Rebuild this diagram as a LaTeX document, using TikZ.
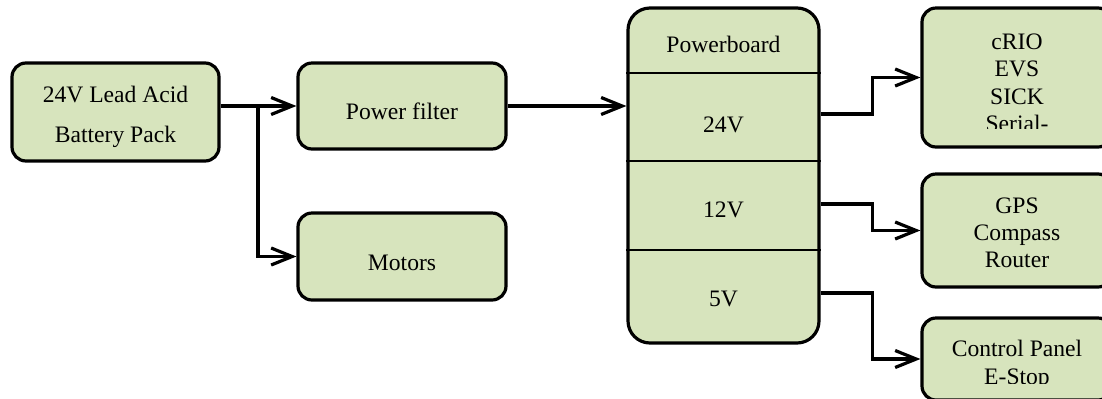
\documentclass[tikz,border=0pt]{standalone}
\usepackage{fontspec}
\setmainfont{LiberationSerif}[Extension=.ttf,UprightFont=*-Regular,BoldFont=*-Bold]
\usetikzlibrary{arrows.meta}
\definecolor{boxgreen}{RGB}{215,228,189}
\tikzset{>={Straight Barb[length=10.5pt,width=8.5pt]},font=\rmfamily\fontsize{11.8}{13.7}\selectfont,
  block/.style={draw,fill=boxgreen,line width=1.6pt,rounded corners=7pt,inner sep=0pt},
  lbl/.style={inner sep=0pt,align=center},
  wire/.style={->,line width=1.6pt},
  divider/.style={line width=1pt}}

\begin{document}
\begin{tikzpicture}[x=0.5pt,y=-0.5pt]
\useasboundingbox (0,0) rectangle (1102,398);
\clip (0,0) rectangle (1102,398);
% boxes
\node[block,minimum width=103.5pt,minimum height=49pt] (battery) at (115.5,112) {};
\node[block,minimum width=104pt,minimum height=43pt] (pf) at (402,106) {};
\node[block,minimum width=104pt,minimum height=43.5pt] (motors) at (402,256.5) {};
\node[block,rounded corners=11pt,minimum width=95.5pt,minimum height=167.5pt] (pb) at (723.5,175.5) {};
\node[block,minimum width=95pt,minimum height=69.5pt] (crio) at (1017,77.5) {};
\node[block,minimum width=95pt,minimum height=56.5pt] (gps) at (1017,230.5) {};
\node[block,minimum width=95pt,minimum height=41pt] (panel) at (1017,359) {};
\draw[divider] (pb.west |- 0,73) -- (pb.east |- 0,73);
\draw[divider] (pb.west |- 0,161) -- (pb.east |- 0,161);
\draw[divider] (pb.west |- 0,250) -- (pb.east |- 0,250);
% texts
\node[lbl] (battery-txt) at (115.5,116.5) {24V Lead Acid\\[6.3pt]Battery Pack};
\node[lbl,anchor=base] (pf-txt) at (402,119) {Power filter};
\node[lbl,anchor=base] (motors-txt) at (402,270) {Motors};
\node[lbl,anchor=base] (pb-txt) at (723.5,52) {Powerboard};
\node[lbl,anchor=base] (v24) at (723.5,132) {24V};
\node[lbl,anchor=base] (v12) at (723.5,217) {12V};
\node[lbl,anchor=base] (v5) at (723.5,306) {5V};
\begin{scope}
\clip (922,0) rectangle (1112,128);
\node[lbl] (crio-txt) at (1017,82.7) {cRIO\\EVS\\SICK\\Serial-};
\end{scope}
\node[lbl] (gps-txt) at (1017,232.7) {GPS\\Compass\\Router};
\begin{scope}
\clip (922,300) rectangle (1112,383);
\node[lbl] (panel-txt) at (1017,365) {Control Panel\\E-Stop};
\end{scope}
% connectors
\coordinate (split) at (258,106);
\draw[line width=1.6pt] (battery.east |- pf.west) -- (split);
\draw[wire] (split) -- (pf.west);
\draw[wire] (split) |- (motors.west);
\draw[wire] (pf.east) -- (pf.east -| pb.west);
\draw[wire] (pb.east |- 0,114) -- ++(52,0) |- (crio.west);
\draw[wire] (pb.east |- 0,204) -- ++(52,0) |- (gps.west);
\draw[wire] (pb.east |- 0,293) -- ++(52,0) |- (panel.west);
\end{tikzpicture}
\end{document}
